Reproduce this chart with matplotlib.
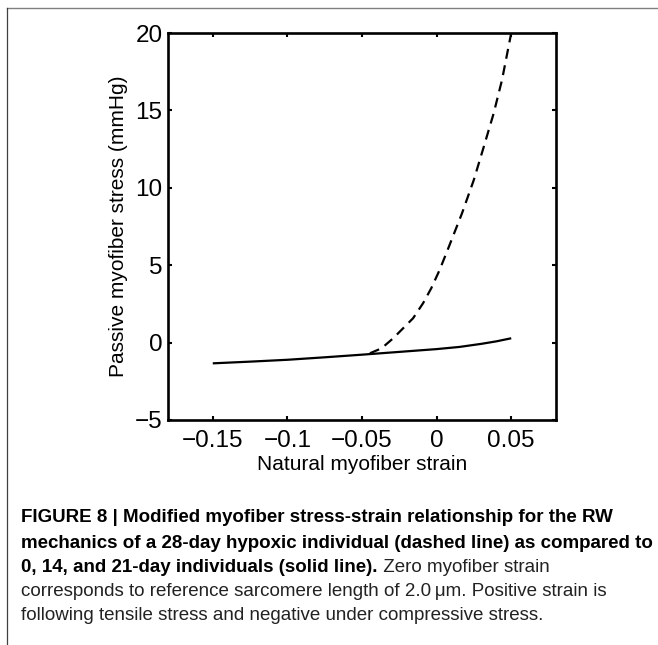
import matplotlib
matplotlib.use("Agg")
import matplotlib.pyplot as plt
from matplotlib.lines import Line2D

# Data
solid_strain = [-0.15, -0.125, -0.10, -0.075, -0.05, -0.025, 0.0, 0.0153, 0.03, 0.04, 0.05]
solid_stress = [-1.34, -1.23, -1.11, -0.95, -0.78, -0.60, -0.42, -0.28, -0.08, 0.08, 0.28]

dashed_strain = [-0.0447, -0.0369, -0.0291, -0.0225, -0.0158, -0.0091, -0.0036, 0.002,
                 0.0069, 0.017, 0.0249, 0.0316, 0.0382, 0.0438, 0.05]
dashed_stress = [-0.69, -0.37, 0.28, 0.92, 1.57, 2.54, 3.51, 4.69,
                 5.87, 8.35, 10.5, 12.65, 14.8, 16.96, 20.0]

xticks = [-0.15, -0.1, -0.05, 0, 0.05]
xticklabels = ["\u22120.15", "\u22120.1", "\u22120.05", "0", "0.05"]
yticks = [-5, 0, 5, 10, 15, 20]
yticklabels = ["\u22125", "0", "5", "10", "15", "20"]

xlabel = "Natural myofiber strain"
ylabel = "Passive myofiber stress (mmHg)"

caption_bold = [
    "FIGURE 8 | Modified myofiber stress-strain relationship for the RW",
    "mechanics of a 28-day hypoxic individual (dashed line) as compared to",
    "0, 14, and 21-day individuals (solid line).",
]
caption_rest = [
    " Zero myofiber strain",
    "corresponds to reference sarcomere length of 2.0\u2009\u03bcm. Positive strain is",
    "following tensile stress and negative under compressive stress.",
]

plt.rcParams['font.family'] = ['Liberation Sans', 'DejaVu Sans']

W, H = 658, 645
fig = plt.figure(figsize=(W / 100, H / 100), dpi=100)
ax = fig.add_axes([168 / W, 1 - 420 / H, (556 - 168) / W, (420 - 33) / H])

ax.plot(solid_strain, solid_stress, color='black', lw=1.6, solid_capstyle='butt')
ax.plot(dashed_strain, dashed_stress, color='black', lw=1.6, linestyle=(0, (4.5, 3)))

ax.set_xlim(-0.18, 0.08)
ax.set_ylim(-5, 20)
ax.set_xticks(xticks)
ax.set_xticklabels(xticklabels)
ax.set_yticks(yticks)
ax.set_yticklabels(yticklabels)
ax.tick_params(direction='in', length=3, width=1.5, top=True, right=True,
               labelsize=17.5, pad=4)
ax.tick_params(axis='x', pad=7.5)
for s in ax.spines.values():
    s.set_linewidth(1.9)
ax.set_xlabel(xlabel, fontsize=15, labelpad=1.5)
ax.set_ylabel(ylabel, fontsize=15, labelpad=5)

# frame around figure (top and left border)
fig.add_artist(Line2D([7 / W, 1.0], [1 - 7.5 / H, 1 - 7.5 / H], color='#808080', lw=1.0))
fig.add_artist(Line2D([7 / W, 7 / W], [1 - 7.5 / H, 0], color='#404040', lw=0.9))

# caption
cap_font = ['Liberation Sans Narrow', 'Liberation Sans', 'DejaVu Sans']
line_y = [517, 543, 568, 592, 616]
x0 = 21 / W
renderer = fig.canvas.get_renderer()
for i in range(3):
    t = fig.text(x0, 1 - line_y[i] / H, caption_bold[i], fontsize=13.5, fontweight='bold',
                 family=cap_font, va='center', ha='left')
    if i == 2:
        bb = t.get_window_extent(renderer=renderer)
        fig.text(bb.x1 / W, 1 - line_y[i] / H, caption_rest[0], fontsize=13.5,
                 family=cap_font, va='center', ha='left', color='#222222')
fig.text(x0, 1 - line_y[3] / H, caption_rest[1], fontsize=13.5, family=cap_font,
         va='center', ha='left', color='#222222')
fig.text(x0, 1 - line_y[4] / H, caption_rest[2], fontsize=13.5, family=cap_font,
         va='center', ha='left', color='#222222')

fig.savefig("out.png", dpi=100)
